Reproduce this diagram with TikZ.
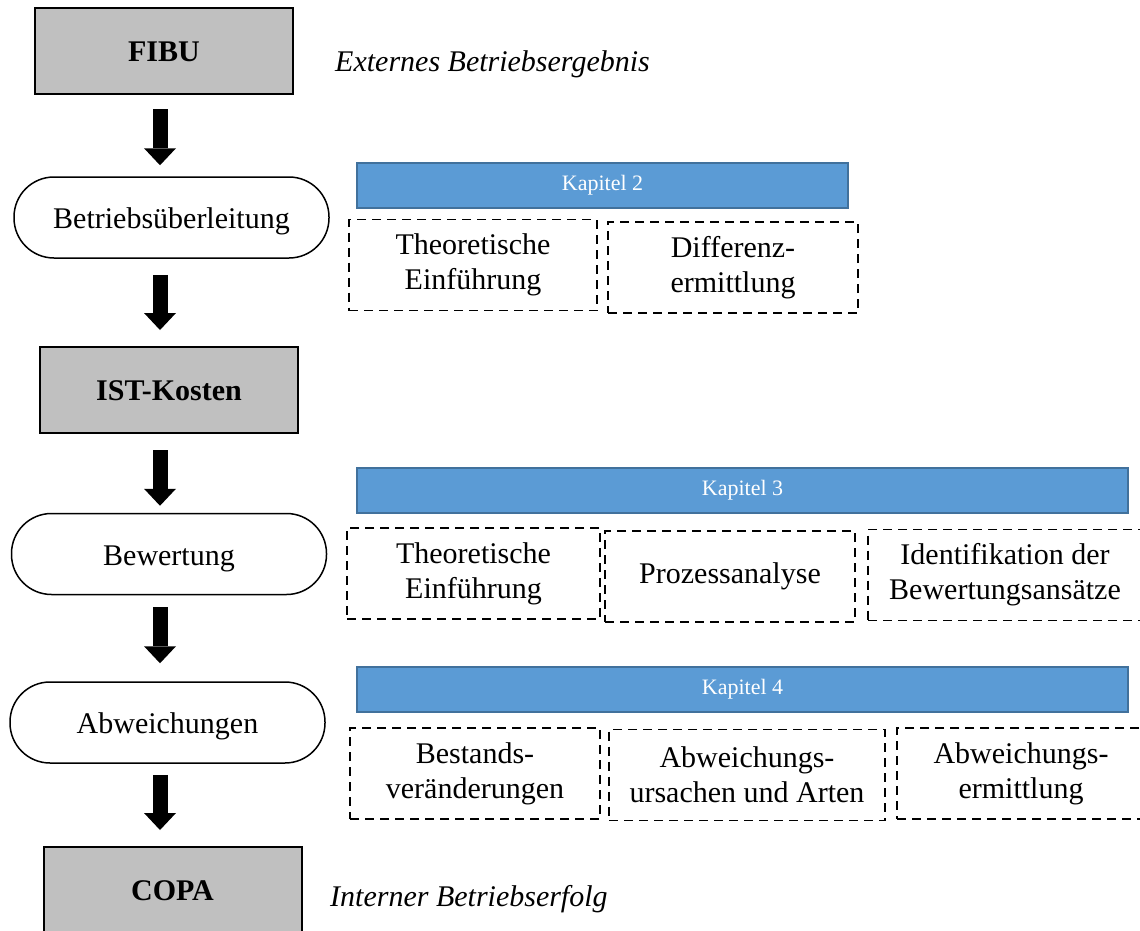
\documentclass[tikz,border=0pt]{standalone}
\usepackage{fontspec}
\setmainfont{Liberation Serif}
\usetikzlibrary{arrows.meta}

\definecolor{kastengrau}{RGB}{192,192,192}
\definecolor{kapitelblau}{RGB}{91,155,213}
\definecolor{kapitelrand}{RGB}{65,113,156}

\tikzset{
  haupt/.style={draw, line width=2pt, fill=kastengrau, minimum width=258pt, minimum height=86pt,
    text height=21pt, text depth=0pt, font=\fontsize{30}{35}\selectfont\bfseries},
  schritt/.style={draw, line width=1.5pt, rounded corners=40pt, minimum width=315pt, minimum height=81pt,
    text height=24pt, text depth=2pt, font=\fontsize{30}{35}\selectfont},
  kapitel/.style={draw=kapitelrand, line width=2pt, fill=kapitelblau, text=white, minimum height=45pt,
    font=\fontsize{22}{26}\selectfont},
  teil/.style={draw, dash pattern=on 9pt off 6pt, line width=1.8pt, minimum height=91pt, align=center,
    font=\fontsize{30}{35}\selectfont},
  pfeil/.style={line width=15pt, -{Triangle[width=32pt,length=17pt,line width=0pt]}},
  notiz/.style={anchor=base west, inner sep=0pt, font=\fontsize{30}{35}\selectfont\itshape}
}

\begin{document}
\begin{tikzpicture}[x=1pt,y=-1pt]
        \useasboundingbox (0,0) rectangle (1140,931);
        \coordinate (spalte) at (160,0);

        % linke Spalte
        \node[haupt]   (fibu)  at (164,51.5)   {FIBU};
        \node[schritt] (ueber) at (171.5,217.5) {Betriebsüberleitung};
        \node[haupt]   (ist)   at (169,390)    {IST-Kosten};
        \node[schritt] (bew)   at (169,554)    {Bewertung};
        \node[schritt] (abw)   at (167.5,722.5) {Abweichungen};
        \node[haupt]   (copa)  at (172.5,890)  {COPA};

        \node[notiz] (extern) at (335,72)  {Externes Betriebsergebnis};
        \node[notiz] (intern) at (330,906) {Interner Betriebserfolg};

        % Pfeile
        \draw[pfeil,shorten <=14pt,shorten >=11pt] (fibu.south -| spalte) -- (ueber.north -| spalte);
        \draw[pfeil,shorten <=16pt,shorten >=16pt] (ueber.south -| spalte) -- (ist.north -| spalte);
        \draw[pfeil,shorten <=16pt,shorten >=7pt]  (ist.south -| spalte) -- (bew.north -| spalte);
        \draw[pfeil,shorten <=12pt,shorten >=18pt] (bew.south -| spalte) -- (abw.north -| spalte);
        \draw[pfeil,shorten <=11pt,shorten >=16pt] (abw.south -| spalte) -- (copa.north -| spalte);

        % Kapitel 2
        \node[kapitel,minimum width=491pt] (kap2) at (602.5,185.5) {Kapitel 2};
        \node[teil,minimum width=248pt] (k2a) at (473,265)   {Theoretische\\Einführung};
        \node[teil,minimum width=250pt] (k2b) at (733,267.5) {Differenz-\\ermittlung};

        % Kapitel 3
        \node[kapitel,minimum width=771pt] (kap3) at (742.5,490) {Kapitel 3};
        \node[teil,minimum width=253pt] (k3a) at (473.5,573.5) {Theoretische\\Einführung};
        \node[teil,minimum width=250pt] (k3b) at (730,576.5)   {Prozessanalyse};
        \node[teil,minimum width=274pt] (k3c) at (1005,575)    {Identifikation der\\Bewertungsansätze};

        % Kapitel 4
        \node[kapitel,minimum width=771pt] (kap4) at (742.5,689) {Kapitel 4};
        \node[teil,minimum width=250pt] (k4a) at (475,773.5)  {Bestands-\\veränderungen};
        \node[teil,minimum width=276pt] (k4b) at (747,775)    {Abweichungs-\\ursachen und Arten};
        \node[teil,minimum width=248pt] (k4c) at (1021,773.5) {Abweichungs-\\ermittlung};
\end{tikzpicture}
\end{document}
